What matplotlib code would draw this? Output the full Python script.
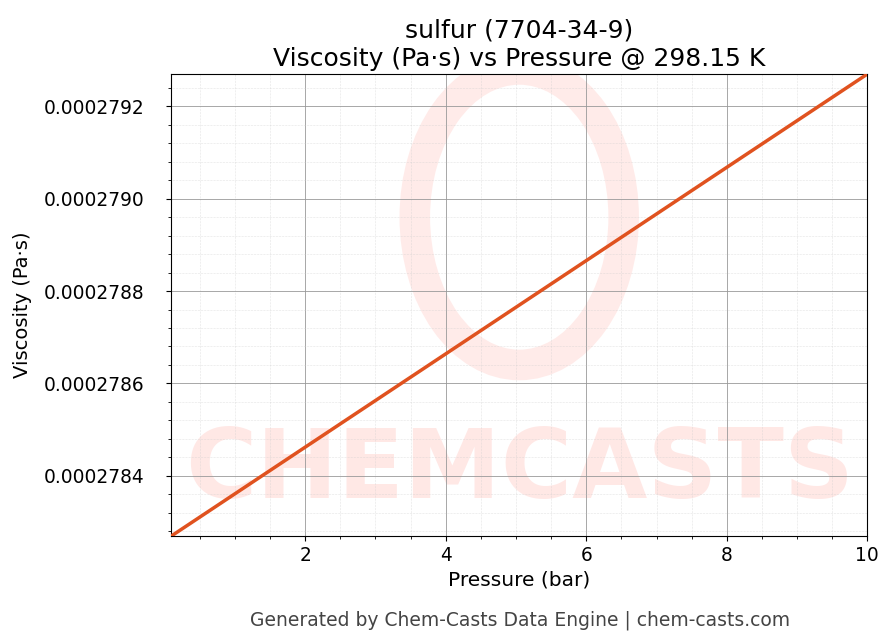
import matplotlib
matplotlib.use("Agg")
import matplotlib.pyplot as plt
from matplotlib.ticker import AutoMinorLocator

pressure = [0.1, 10.0]
viscosity = [0.00027827, 0.00027927]

fig = plt.figure(figsize=(8.96, 6.44), dpi=100)
ax = fig.add_axes([0.191, 0.168, 0.777, 0.717])
ax.text(0.5, 0.14, "CHEMCASTS", transform=ax.transAxes, ha="center", va="center",
        fontsize=70, fontweight="bold", color="#ffd9d5", alpha=0.6, zorder=0, clip_on=True)
circ = matplotlib.patches.Ellipse((0.5, 0.69), 0.3, 0.64, transform=ax.transAxes,
        fill=False, lw=22, ec="#ffe3e0", alpha=0.7, zorder=0)
ax.add_patch(circ)
ax.plot(pressure, viscosity, color="#e0521f", lw=2.5, zorder=3)
ax.set_xlim(0.093, 10)
ax.set_ylim(0.00027827, 0.00027927)
ax.set_xticks([2, 4, 6, 8, 10])
ax.set_yticks([0.0002784, 0.0002786, 0.0002788, 0.0002790, 0.0002792])
ax.yaxis.set_major_formatter(matplotlib.ticker.FormatStrFormatter("%.7f"))
ax.xaxis.set_minor_locator(AutoMinorLocator(4))
ax.yaxis.set_minor_locator(AutoMinorLocator(5))
ax.grid(which="major", color="#999999", lw=0.6)
ax.grid(which="minor", color="#cccccc", lw=0.4, ls=":")
ax.tick_params(labelsize=13.4)
ax.tick_params(axis="y", which="major", pad=16)
ax.set_xlabel("Pressure (bar)", fontsize=14.5)
ax.set_ylabel("Viscosity (Pa·s)", fontsize=14, labelpad=8)
ax.set_title("sulfur (7704-34-9)\nViscosity (Pa·s) vs Pressure @ 298.15 K", fontsize=18)
fig.text(0.58, 0.028, "Generated by Chem-Casts Data Engine | chem-casts.com",
         ha="center", fontsize=13.5, color="#444444")
fig.savefig("out.png", dpi=100)
